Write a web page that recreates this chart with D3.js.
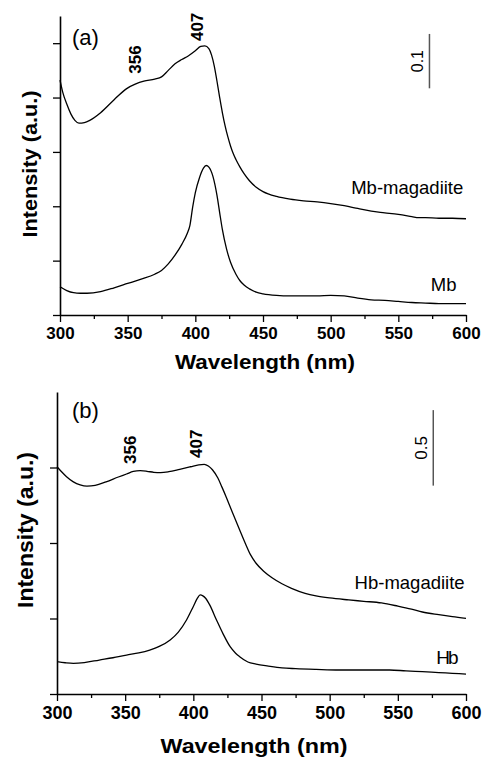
<!DOCTYPE html>
<html>
<head>
<meta charset="utf-8">
<script src="https://cdn.jsdelivr.net/npm/d3@7"></script>
<style>
  html, body { margin: 0; padding: 0; background: #fff; }
  svg { display: block; }
  text { font-family: "Liberation Sans", Arial, Helvetica, sans-serif; fill: #000; }
</style>
</head>
<body>
<svg id="chart" width="482" height="759"></svg>
<script>
// UV-vis spectra, wavelength (nm) vs. intensity (a.u.)
const xTicksMajor = [300, 350, 400, 450, 500, 550, 600];
const xTicksMinor = [325, 375, 425, 475, 525, 575];

// Panel (a): myoglobin
const yTicksA = [0, 0.1, 0.2, 0.3, 0.4, 0.5];
const mbMagadiite = [
  [300,0.432],[302,0.410],[305,0.388],[308,0.370],[311,0.358],[314,0.353],[318,0.354],
  [322,0.358],[330,0.372],[340,0.396],[349,0.416],[356,0.425],[362,0.430],[370,0.434],
  [375,0.438],[380,0.450],[385,0.462],[390,0.470],[395,0.477],[400,0.486],[404,0.494],
  [407,0.495],[410,0.490],[412,0.478],[414,0.458],[416,0.430],[418,0.400],[420,0.372],
  [422,0.348],[424,0.328],[426,0.311],[428,0.297],[430,0.286],[433,0.272],[436,0.260],
  [440,0.247],[445,0.235],[450,0.227],[460,0.218],[470,0.213],[480,0.210],[490,0.208],
  [500,0.205],[510,0.201],[520,0.196],[530,0.191],[540,0.188],[550,0.185],[560,0.181],
  [565,0.179],[570,0.179],[580,0.178],[590,0.178],[600,0.177]
];
const mb = [
  [300,0.052],[305,0.045],[310,0.041],[315,0.040],[320,0.040],[330,0.043],[340,0.050],
  [350,0.058],[360,0.066],[370,0.075],[375,0.082],[380,0.094],[385,0.110],[390,0.130],
  [394,0.150],[396,0.165],[398,0.198],[400,0.225],[403,0.252],[406,0.270],[408,0.275],
  [410,0.272],[413,0.255],[416,0.220],[418,0.188],[420,0.157],[423,0.122],[426,0.097],
  [430,0.075],[433,0.063],[436,0.055],[440,0.048],[445,0.042],[450,0.039],[460,0.036],
  [470,0.035],[480,0.035],[490,0.035],[500,0.036],[510,0.035],[520,0.031],[530,0.028],
  [540,0.027],[550,0.025],[560,0.023],[570,0.022],[580,0.021],[590,0.021],[600,0.021]
];

// Panel (b): hemoglobin
const yTicksB = [0, 0.5, 1.0, 1.5];
const hbMagadiite = [
  [300,1.505],[303,1.475],[307,1.439],[312,1.405],[317,1.385],[322,1.377],[328,1.382],
  [336,1.405],[345,1.437],[351,1.457],[356,1.474],[361,1.479],[366,1.475],[371,1.468],
  [376,1.466],[382,1.472],[390,1.488],[398,1.505],[404,1.518],[408,1.521],[411,1.510],
  [414,1.485],[418,1.430],[421,1.370],[424,1.307],[429,1.195],[434,1.086],[438,1.000],
  [442,0.921],[446,0.866],[452,0.810],[458,0.768],[465,0.730],[472,0.700],[482,0.667],
  [490,0.650],[500,0.636],[514,0.623],[525,0.614],[538,0.603],[550,0.582],[560,0.562],
  [568,0.543],[580,0.525],[590,0.512],[600,0.501]
];
const hb = [
  [300,0.214],[306,0.207],[312,0.203],[320,0.208],[331,0.225],[341,0.240],[351,0.258],
  [360,0.272],[368,0.291],[375,0.315],[383,0.358],[389,0.410],[395,0.490],[400,0.580],
  [403,0.635],[405,0.656],[407,0.650],[409,0.634],[412,0.590],[417,0.490],[422,0.395],
  [427,0.313],[431,0.270],[434,0.247],[440,0.212],[446,0.198],[455,0.185],[465,0.173],
  [475,0.168],[490,0.163],[507,0.159],[525,0.159],[544,0.159],[556,0.153],[568,0.148],
  [580,0.142],[590,0.137],[600,0.132]
];

const svg = d3.select("#chart");

function drawPanel(cfg) {
  const g = svg.append("g");
  const x = d3.scaleLinear().domain([300, 600]).range(cfg.xRange);
  const y = d3.scaleLinear().domain(cfg.yDomain).range(cfg.yRange);

  // minor x ticks
  g.append("g")
    .attr("transform", `translate(0,${cfg.yRange[0]})`)
    .call(d3.axisBottom(x).tickValues(xTicksMinor).tickSize(4).tickSizeOuter(0).tickFormat(""))
    .call(a => a.select(".domain").remove())
    .call(a => a.selectAll("line").attr("stroke-width", 1.3));

  // major x ticks with labels
  const xa = g.append("g")
    .attr("transform", `translate(0,${cfg.yRange[0]})`)
    .call(d3.axisBottom(x).tickValues(xTicksMajor).tickSize(7).tickSizeOuter(0).tickPadding(5));
  xa.select(".domain").attr("stroke-width", 1.6);
  xa.selectAll("line").attr("stroke-width", 1.3);
  xa.selectAll("text")
    .style("font-family", '"Liberation Sans", Arial, sans-serif')
    .style("font-weight", "bold")
    .style("font-size", cfg.tickFont + "px")
    .attr("fill", "#000");

  // y axis, ticks only
  const ya = g.append("g")
    .attr("transform", `translate(${cfg.xRange[0]},0)`)
    .call(d3.axisLeft(y).tickValues(cfg.yTicks).tickSize(7).tickSizeOuter(0).tickFormat(""));
  ya.select(".domain").attr("stroke-width", 1.6);
  ya.selectAll("line").attr("stroke-width", 1.3);

  // spectra
  const line = d3.line()
    .x(d => x(d[0]))
    .y(d => y(d[1]))
    .curve(d3.curveMonotoneX);
  cfg.series.forEach(s => {
    g.append("path")
      .datum(s)
      .attr("d", line)
      .attr("fill", "none")
      .attr("stroke", "#000")
      .attr("stroke-width", 1.3)
      .attr("stroke-linejoin", "round");
  });

  // axis titles
  g.append("text")
    .attr("x", cfg.xTitle[0]).attr("y", cfg.xTitle[1])
    .attr("text-anchor", "middle")
    .attr("textLength", cfg.xTitleLen)
    .attr("lengthAdjust", "spacingAndGlyphs")
    .style("font-weight", "bold")
    .style("font-size", cfg.xTitleFont + "px")
    .text("Wavelength (nm)");
  g.append("text")
    .attr("transform", `translate(${cfg.yTitle[0]},${cfg.yTitle[1]}) rotate(-90)`)
    .attr("text-anchor", "middle")
    .attr("textLength", cfg.yTitleLen)
    .attr("lengthAdjust", "spacingAndGlyphs")
    .style("font-weight", "bold")
    .style("font-size", cfg.yTitleFont + "px")
    .text("Intensity (a.u.)");

  // panel tag
  g.append("text")
    .attr("x", cfg.tag[0]).attr("y", cfg.tag[1])
    .style("font-size", "22px")
    .text(cfg.tagText);

  // peak annotations
  cfg.peaks.forEach(p => {
    g.append("text")
      .attr("transform", `translate(${x(p.at)},${y(p.v)}) rotate(-90)`)
      .attr("text-anchor", "middle")
      .style("font-weight", "bold")
      .style("font-size", "17px")
      .text(p.label);
  });

  // series labels
  cfg.labels.forEach(l => {
    g.append("text")
      .attr("x", x(l.at)).attr("y", y(l.v))
      .attr("text-anchor", "end")
      .style("font-size", l.size + "px")
      .style("letter-spacing", (l.spacing || 0) + "px")
      .text(l.text);
  });

  // intensity scale bar
  const sb = cfg.scaleBar;
  g.append("line")
    .attr("x1", x(sb.at)).attr("x2", x(sb.at))
    .attr("y1", y(sb.from)).attr("y2", y(sb.from + sb.len))
    .attr("stroke", "#555")
    .attr("stroke-width", 1.5);
  g.append("text")
    .attr("transform", `translate(${x(sb.at) - 6},${y(sb.from + sb.len / 2)}) rotate(-90)`)
    .attr("text-anchor", "middle")
    .style("font-size", sb.font + "px")
    .attr("fill", "#222")
    .text(sb.label);
}

drawPanel({
  xRange: [60, 466], yRange: [315, 16], yDomain: [0, 0.55], yTicks: yTicksA,
  series: [mbMagadiite, mb], tickFont: 17,
  xTitle: [265, 369], xTitleFont: 20, xTitleLen: 180,
  yTitle: [37, 164], yTitleFont: 21, yTitleLen: 147,
  tag: [72, 45], tagText: "(a)",
  peaks: [{ label: "356", at: 359.5, v: 0.470 }, { label: "407", at: 405.5, v: 0.530 }],
  labels: [
    { text: "Mb-magadiite", at: 598, v: 0.222, size: 18.5 },
    { text: "Mb", at: 593, v: 0.044, size: 18.5 }
  ],
  scaleBar: { at: 573, from: 0.417, len: 0.1, label: "0.1", font: 16 }
});

drawPanel({
  xRange: [57, 466], yRange: [694, 392], yDomain: [0, 2], yTicks: yTicksB,
  series: [hbMagadiite, hb], tickFont: 18,
  xTitle: [254, 753], xTitleFont: 21, xTitleLen: 187,
  yTitle: [33, 530], yTitleFont: 22, yTitleLen: 156,
  tag: [72, 418], tagText: "(b)",
  peaks: [{ label: "356", at: 358, v: 1.617 }, { label: "407", at: 406, v: 1.657 }],
  labels: [
    { text: "Hb-magadiite", at: 599, v: 0.695, size: 18.5 },
    { text: "Hb", at: 593, v: 0.199, size: 19, spacing: -2 }
  ],
  scaleBar: { at: 576, from: 1.38, len: 0.5, label: "0.5", font: 17 }
});
</script>
</body>
</html>
